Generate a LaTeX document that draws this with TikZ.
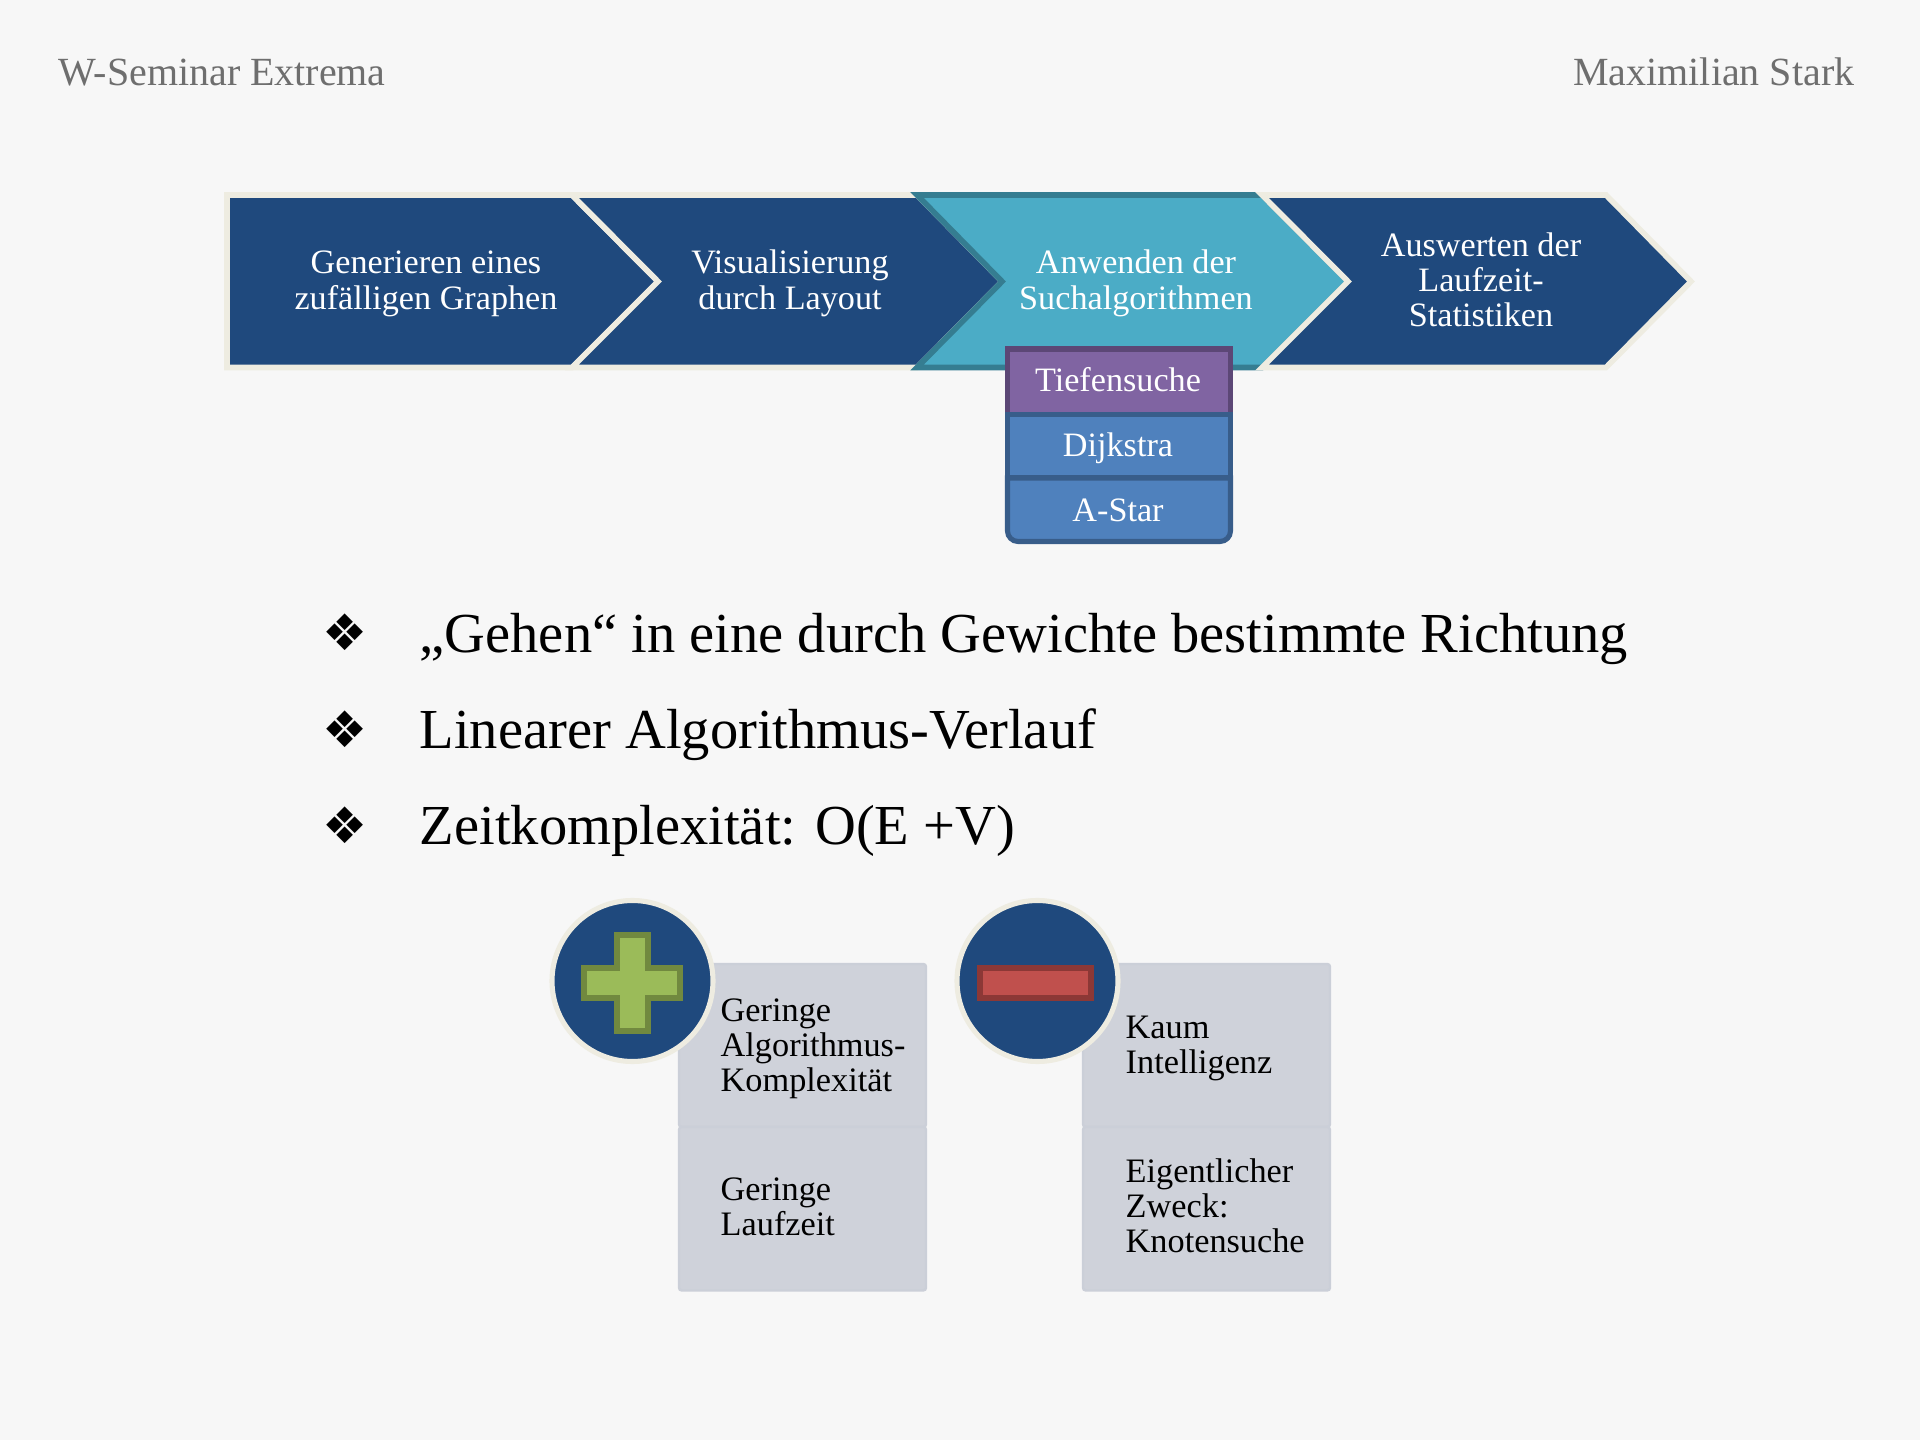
\documentclass[tikz,border=0pt]{standalone}
\usepackage{fontspec}
\setmainfont{Liberation Serif}
\newfontfamily\bulletfont{DejaVu Sans}
\definecolor{pagebg}{HTML}{F7F7F7}
\definecolor{navy}{HTML}{1F497D}
\definecolor{eggshell}{HTML}{EEECE1}
\definecolor{teal}{HTML}{4BACC6}
\definecolor{tealdark}{HTML}{357D91}
\definecolor{lila}{HTML}{8064A2}
\definecolor{liladark}{HTML}{5C4776}
\definecolor{itemblue}{HTML}{4F81BD}
\definecolor{itemdark}{HTML}{385D8A}
\definecolor{cellgrey}{HTML}{CFD2DA}
\definecolor{celledge}{HTML}{CBCFD8}
\definecolor{headgrey}{HTML}{6E6E6E}
\definecolor{plusgreen}{HTML}{9BBB59}
\definecolor{plusdark}{HTML}{71893F}
\definecolor{minusred}{HTML}{C0504D}
\definecolor{minusdark}{HTML}{8C3836}
\tikzset{
  navyshape/.style={fill=navy,draw=eggshell,line width=1.6pt,line join=miter},
  tealshape/.style={fill=teal,draw=tealdark,line width=1.6pt,line join=miter},
  lilaitem/.style={fill=lila,draw=liladark,line width=1.45pt},
  blueitem/.style={fill=itemblue,draw=itemdark,line width=1.45pt},
  cell/.style={fill=cellgrey,draw=celledge,line width=0.7pt,rounded corners=0.8pt},
  badge/.style={fill=navy,draw=eggshell,line width=1.45pt},
  steptext/.style={text=white,align=center,anchor=base,inner sep=0pt,font=\fontsize{9.72}{10.07}\selectfont},
  celltext/.style={text=black,align=left,anchor=base west,inner sep=0pt,font=\fontsize{9.75}{10.07}\selectfont},
  headtext/.style={text=headgrey,anchor=base,inner sep=0pt,font=\fontsize{11.37}{14}\selectfont},
  pointtext/.style={text=black,anchor=base west,inner sep=0pt,font=\fontsize{16.07}{18}\selectfont},
  pointmark/.style={text=black,inner sep=0pt,font=\bulletfont\fontsize{14.3}{16}\selectfont},
}
\begin{document}
\begin{tikzpicture}[x=0.01cm,y=-0.01cm]
    \fill [pagebg] (0,0) rectangle (1920,1440);
    \node [headtext,anchor=base west] (seminar) at (57.5,85.7) {W-Seminar Extrema};
    \node [headtext,anchor=base east] (speaker) at (1855,85.7) {Maximilian Stark};
    % process arrows
    \draw [navyshape] (227,195) -- (572,195) -- (658,281.5) -- (572,367.5) -- (227,367.5) -- cycle;
    \draw [navyshape] (572,195) -- (917,195) -- (1002,281.5) -- (917,367.5) -- (572,367.5) -- (658,281.5) -- cycle;
    \draw [tealshape] (917,195) -- (1262,195) -- (1348,281.5) -- (1262,367.5) -- (917,367.5) -- (1002,281.5) -- cycle;
    \draw [navyshape] (1262,195) -- (1606,195) -- (1691,281.5) -- (1606,367.5) -- (1262,367.5) -- (1348,281.5) -- cycle;
    \node [steptext] (generate) at (426,309.2) {Generieren eines\\zufälligen Graphen};
    \node [steptext] (layout) at (790,309.2) {Visualisierung\\durch Layout};
    \node [steptext] (apply) at (1136,309.2) {Anwenden der\\Suchalgorithmen};
    \node [steptext] (evaluate) at (1481,327) {Auswerten der\\Laufzeit-\\Statistiken};
    % search list
    \draw [lilaitem] (1007.5,349) rectangle (1230.5,414.5);
    \draw [blueitem] (1007.5,414.5) rectangle (1230.5,478);
    \draw [blueitem] (1007.5,478) -- (1230.5,478) -- (1230.5,510) [rounded corners=3pt] -- (1230.5,541.5) -- (1007.5,541.5) -- (1007.5,510) [sharp corners] -- cycle;
    \node [steptext] (dfs) at (1118,391.5) {Tiefensuche};
    \node [steptext] (dijkstra) at (1118,456.5) {Dijkstra};
    \node [steptext] (astar) at (1118,521.5) {A-Star};
    % bullet points
    \node [pointmark] (markone) at (345,632) {❖};
    \node [pointmark] (marktwo) at (345,729) {❖};
    \node [pointmark] (markthree) at (345,825) {❖};
    \node [pointtext] (pointone) at (419,653) {„Gehen“ in eine durch Gewichte bestimmte Richtung};
    \node [pointtext] (pointtwo) at (419,749) {Linearer Algorithmus-Verlauf};
    \node [pointtext] (pointthree) at (419,845) {Zeitkomplexität: O(E +V)};
    % pro and contra cells
    \draw [cell] (679,964) rectangle (926,1127);
    \draw [cell] (679,1127) rectangle (926,1290.5);
    \draw [cell] (1083,964) rectangle (1330,1127);
    \draw [cell] (1083,1127) rectangle (1330,1290.5);
    \node [celltext] (proone) at (720,1092) {Geringe\\Algorithmus-\\Komplexität};
    \node [celltext] (protwo) at (720,1236) {Geringe\\Laufzeit};
    \node [celltext] (conone) at (1125,1074) {Kaum\\Intelligenz};
    \node [celltext] (contwo) at (1125,1253) {Eigentlicher\\Zweck:\\Knotensuche};
    % badges
    \draw [badge] (632.5,981) circle [radius=80.5];
    \draw [badge] (1037.5,981) circle [radius=80.5];
    \draw [fill=plusgreen,draw=plusdark,line width=1.55pt] (617,935) -- (648,935) -- (648,968) -- (680,968) -- (680,998) -- (648,998) -- (648,1031) -- (617,1031) -- (617,998) -- (584,998) -- (584,968) -- (617,968) -- cycle;
    \draw [fill=minusred,draw=minusdark,line width=1.55pt] (980,968) rectangle (1091,998);
\end{tikzpicture}
\end{document}
